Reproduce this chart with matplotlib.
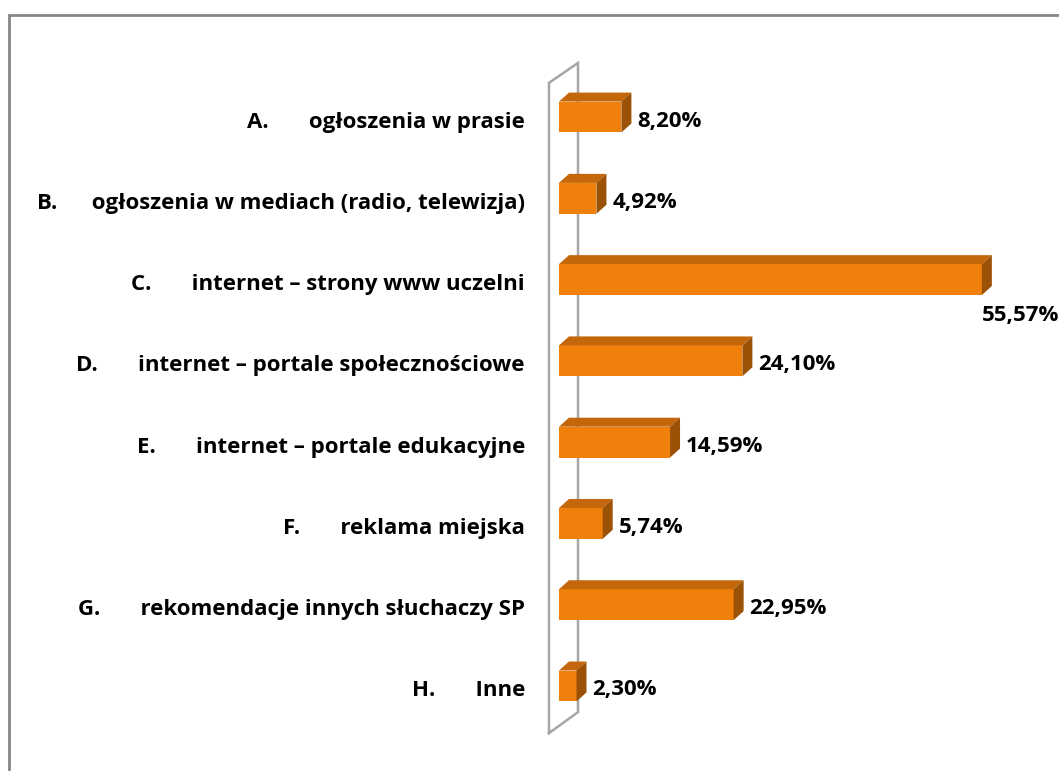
import matplotlib
matplotlib.use('Agg')
import matplotlib.pyplot as plt
from matplotlib.patches import Polygon, Rectangle

plt.rcParams['font.family'] = ['Open Sans', 'DejaVu Sans']

letters = ['A.', 'B.', 'C.', 'D.', 'E.', 'F.', 'G.', 'H.']
categories = ['ogłoszenia w prasie',
              'ogłoszenia w mediach (radio, telewizja)',
              'internet – strony www uczelni',
              'internet – portale społecznościowe',
              'internet – portale edukacyjne',
              'reklama miejska',
              'rekomendacje innych słuchaczy SP',
              'Inne']
values = [8.20, 4.92, 55.57, 24.10, 14.59, 5.74, 22.95, 2.30]
value_labels = ['8,20%', '4,92%', '55,57%', '24,10%', '14,59%', '5,74%', '22,95%', '2,30%']

front = '#f0800c'
top = '#c4660a'
side = '#9c5206'
wall = '#a6a6a6'
fs = 16

W, H = 1059, 771
fig = plt.figure(figsize=(W / 100, H / 100), dpi=100)
ax = fig.add_axes([559 / W, 1 - 726.6 / H, 494.6 / W, 650.2 / H])
xmax = 65
n = len(values)
ax.set_xlim(0, xmax)
ax.set_ylim(n - 0.5, -0.5)

bb = ax.get_window_extent()
sx = bb.width / xmax      # px per % unit
sy = bb.height / n        # px per category

# depth of the bars in pixels (right, up)
ddx = 10 / sx
ddy = -9 / sy
h = 0.38

ypos = list(range(n))
ax.barh(ypos, values, height=h, color=front, zorder=3)
for y, v in zip(ypos, values):
    y0 = y - h / 2
    y1 = y + h / 2
    ax.add_patch(Polygon([(0, y0), (v, y0), (v + ddx, y0 + ddy), (ddx, y0 + ddy)],
                         closed=True, fc=top, ec='none', zorder=3))
    ax.add_patch(Polygon([(v, y0), (v + ddx, y0 + ddy), (v + ddx, y1 + ddy), (v, y1)],
                         closed=True, fc=side, ec='none', zorder=3))

# side wall of the 3D chart
fx = -10 / sx
bx = 19 / sx
ftop, fbot = -0.42, n - 0.42
btop, bbot = ftop - 20 / sy, fbot - 21 / sy
ax.plot([fx, fx, bx, bx, fx], [fbot, ftop, btop, bbot, fbot],
        color=wall, lw=1.8, zorder=1, clip_on=False, solid_joinstyle='miter')

# value labels
for y, v, lab in zip(ypos, values, value_labels):
    if v > 50:
        ax.text(v, y + 36 / sy, lab, ha='left', va='center', fontsize=fs,
                fontweight='bold', clip_on=False)
    else:
        ax.text(v + 16 / sx, y + 4 / sy, lab, ha='left', va='center', fontsize=fs,
                fontweight='bold', clip_on=False)

# category labels
for y, l, c in zip(ypos, letters, categories):
    gap = ' ' * (6 if l == 'B.' else 7)
    ax.text(-34 / sx, y + 5 / sy, l + gap + c, ha='right', va='center', fontsize=fs,
            fontweight='bold', clip_on=False)

ax.set_xticks([])
ax.set_yticks([])
for s in ax.spines.values():
    s.set_visible(False)
ax.patch.set_visible(False)

fig.patches.append(Rectangle((9 / W, -0.1), 1.2, 1.1 - 15 / H, transform=fig.transFigure,
                             fill=False, ec='#868686', lw=2))

fig.savefig('out.png', dpi=100)
